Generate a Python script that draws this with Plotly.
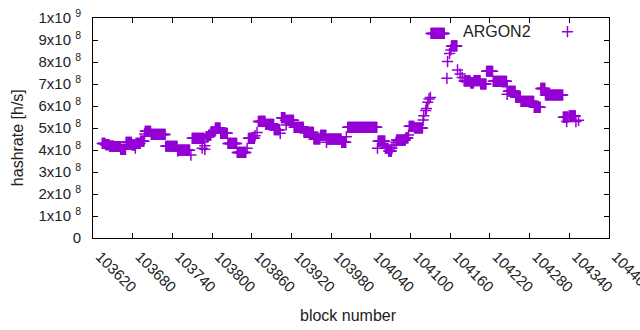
import plotly.graph_objects as go

# Runs of constant hashrate: first block, last block, hashrate [h/s]
run_start = [103634, 103639, 103645, 103652, 103662, 103670, 103679, 103684, 103685, 103692,
             103698, 103699, 103708, 103730, 103748, 103749, 103768, 103770, 103785, 103789,
             103789, 103791, 103795, 103799, 103805, 103813, 103824, 103838, 103853, 103855,
             103865, 103868, 103870, 103881, 103894, 103903, 103905, 103911, 103912, 103924,
             103939, 103954, 103964, 103973, 103974, 103996, 104003, 104005, 104050, 104051,
             104062, 104067, 104072, 104075, 104078, 104079, 104093, 104097, 104098, 104106,
             104119, 104120, 104123, 104124, 104126, 104128, 104130, 104131, 104155, 104156,
             104159, 104161, 104162, 104171, 104175, 104178, 104181, 104191, 104196, 104206,
             104215, 104225, 104246, 104246, 104248, 104259, 104267, 104287, 104297, 104304,
             104331, 104336, 104340, 104350, 104354]
run_end = [103638, 103644, 103651, 103661, 103669, 103678, 103683, 103684, 103691, 103697,
           103698, 103707, 103729, 103747, 103748, 103766, 103768, 103788, 103785, 103789,
           103789, 103794, 103798, 103804, 103812, 103823, 103837, 103851, 103853, 103864,
           103865, 103868, 103880, 103893, 103902, 103903, 103910, 103923, 103912, 103938,
           103953, 103963, 103972, 103973, 103995, 104002, 104003, 104049, 104050, 104061,
           104066, 104071, 104072, 104075, 104078, 104092, 104096, 104097, 104105, 104118,
           104119, 104120, 104123, 104124, 104126, 104128, 104130, 104151, 104155, 104156,
           104159, 104161, 104170, 104171, 104175, 104178, 104190, 104195, 104205, 104214,
           104224, 104245, 104246, 104246, 104258, 104266, 104286, 104296, 104303, 104330,
           104338, 104336, 104349, 104350, 104354]
run_value = [4.30e8, 4.24e8, 4.18e8, 4.16e8, 4.03e8, 4.35e8, 4.23e8, 4.08e8, 4.30e8, 4.40e8,
             4.73e8, 4.85e8, 4.71e8, 4.17e8, 3.95e8, 3.99e8, 3.77e8, 4.53e8, 4.08e8, 4.19e8,
             4.03e8, 4.60e8, 4.68e8, 4.83e8, 5.00e8, 4.76e8, 4.30e8, 3.89e8, 4.08e8, 4.53e8,
             4.65e8, 4.80e8, 5.30e8, 5.17e8, 4.92e8, 4.76e8, 5.47e8, 5.35e8, 5.14e8, 5.03e8,
             4.80e8, 4.50e8, 4.67e8, 4.35e8, 4.49e8, 4.35e8, 4.60e8, 5.03e8, 4.08e8, 4.40e8,
             4.08e8, 3.95e8, 4.08e8, 4.23e8, 4.35e8, 4.45e8, 4.55e8, 4.68e8, 5.08e8, 5.00e8,
             5.36e8, 5.56e8, 5.79e8, 5.89e8, 6.17e8, 6.32e8, 6.39e8, 9.30e8, 7.26e8, 8.02e8,
             8.39e8, 8.55e8, 8.73e8, 7.64e8, 7.45e8, 7.30e8, 7.14e8, 7.05e8, 7.15e8, 7.00e8,
             7.58e8, 7.12e8, 6.88e8, 6.53e8, 6.67e8, 6.40e8, 6.21e8, 5.94e8, 6.80e8, 6.50e8,
             5.49e8, 5.29e8, 5.55e8, 5.29e8, 5.35e8]

x_tick_vals = [103620, 103680, 103740, 103800, 103860, 103920, 103980,
               104040, 104100, 104160, 104220, 104280, 104340, 104400]
x_tick_text = [str(v) for v in x_tick_vals]
y_tick_vals = [0, 1e8, 2e8, 3e8, 4e8, 5e8, 6e8, 7e8, 8e8, 9e8, 1e9]
y_tick_text = (["0"] + ["%dx10\u00a0<sup>8</sup>" % i for i in range(1, 10)]
               + ["1x10\u00a0<sup>9</sup>"])

series_name = "ARGON2"

# expand runs into one point per block
blocks, rates = [], []
for s, e, v in zip(run_start, run_end, run_value):
    for b in range(s, e + 1):
        blocks.append(b)
        rates.append(v)

purple = "#9400D3"
font_family = "Liberation Sans, Arial, sans-serif"
txt = "#222"

fig = go.Figure()
fig.add_trace(go.Scatter(
    x=blocks, y=rates, mode="markers", name="",
    marker=dict(symbol="cross-thin", size=8, color=purple,
                line=dict(color=purple, width=1.5)),
    showlegend=True,
))

axis_common = dict(
    showline=True, linecolor="black", linewidth=1, mirror="ticks",
    ticks="inside", ticklen=5, tickcolor="black", tickwidth=1,
    showgrid=False, zeroline=False, automargin=False,
    ticklabeloverflow="allow",
)

fig.update_layout(
    width=640, height=330, autosize=False,
    margin=dict(l=93, r=31, t=18, b=92, pad=0),
    paper_bgcolor="white", plot_bgcolor="white",
    font=dict(family=font_family, size=14, color=txt),
    xaxis=dict(range=[103620, 104400], tickmode="array", tickvals=x_tick_vals,
               ticktext=x_tick_text, tickangle=45, ticklabelshift=7,
               ticklabelstandoff=3,
               tickfont=dict(family=font_family, size=15, color=txt),
               **axis_common),
    yaxis=dict(range=[0, 1e9], tickmode="array", tickvals=y_tick_vals,
               ticktext=y_tick_text, ticklabelstandoff=8,
               tickfont=dict(family=font_family, size=15, color=txt),
               **axis_common),
    legend=dict(title=dict(text=series_name + "\u00a0\u00a0", side="left",
                           font=dict(family=font_family, size=16, color=txt)),
                x=0.969, xanchor="right", y=0.936, yanchor="middle",
                bgcolor="rgba(0,0,0,0)", itemwidth=30),
    annotations=[
        dict(text="hashrate [h/s]", textangle=-90, xref="paper", yref="paper",
             x=-0.147, y=0.4545, xanchor="center", yanchor="middle",
             showarrow=False, font=dict(family=font_family, size=16, color=txt)),
        dict(text="block number", xref="paper", yref="paper",
             x=0.496, y=-0.35, xanchor="center", yanchor="middle",
             showarrow=False, font=dict(family=font_family, size=16, color=txt)),
    ],
)

# remove the default page margin so the figure sits at the window's corner
fig.write_html(
    "out.html",
    config={"displayModeBar": False},
    post_script="document.body.style.margin='0';document.body.style.overflow='hidden';",
)
